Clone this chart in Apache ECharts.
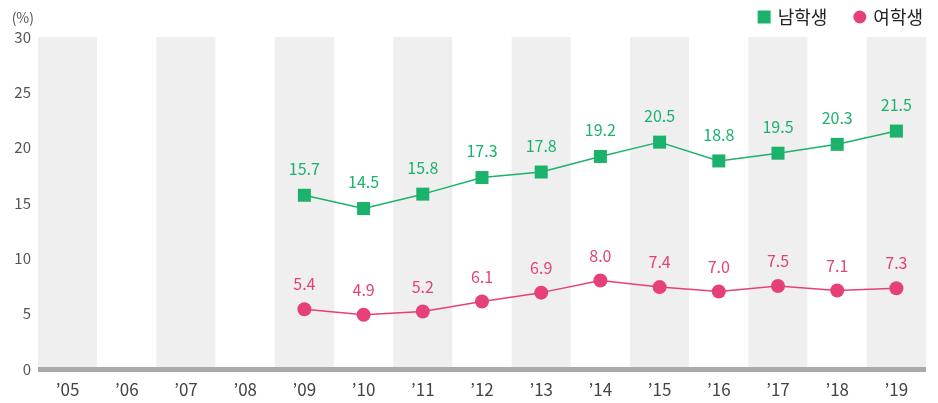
<!DOCTYPE html>
<html><head><meta charset="utf-8">
<script src="https://cdn.jsdelivr.net/npm/echarts@6/dist/echarts.min.js"></script>
<style>html,body{margin:0;padding:0;background:#fff}#c{width:938px;height:403px}</style>
</head><body><div id="c"></div>
<script>
const categories = ['’05','’06','’07','’08','’09','’10','’11','’12','’13','’14','’15','’16','’17','’18','’19'];
const male = [null,null,null,null,15.7,14.5,15.8,17.3,17.8,19.2,20.5,18.8,19.5,20.3,21.5];
const female = [null,null,null,null,5.4,4.9,5.2,6.1,6.9,8.0,7.4,7.0,7.5,7.1,7.3];
const yTicks = [0,5,10,15,20,25,30];
const FONT = '"Noto Sans CJK KR", "Noto Sans", sans-serif';
const green = '#1bb36b', pink = '#e6407b';
const chart = echarts.init(document.getElementById('c'));
chart.setOption({
  animation: false,
  textStyle: {fontFamily: FONT},
  legend: {
    right: 10, top: 3, itemGap: 26, itemWidth: 13, itemHeight: 13,
    textStyle: {fontSize: 18, color: '#222', fontFamily: FONT, padding: [0,0,0,2]},
    data: [{name: '남학생', icon: 'rect'}, {name: '여학생', icon: 'circle'}]
  },
  grid: {left: 38, right: 12, top: 37, bottom: 34, containLabel: false},
  xAxis: {
    type: 'category', data: categories, boundaryGap: true,
    axisLine: {lineStyle: {color: '#aaaaaa', width: 5, cap: 'butt'}},
    axisTick: {show: false},
    axisLabel: {fontSize: 17, color: '#444', margin: 12, fontFamily: FONT},
    splitArea: {show: true, areaStyle: {color: ['#efefef', '#ffffff']}}
  },
  yAxis: {
    type: 'value', min: 0, max: 30, interval: 5,
    name: '(%)', nameLocation: 'end', nameGap: 12,
    nameTextStyle: {fontSize: 14, color: '#555', align: 'right', padding: [0, 4, 0, 0]},
    axisLine: {show: false}, axisTick: {show: false}, splitLine: {show: false},
    axisLabel: {fontSize: 15, color: '#555', margin: 7,
      formatter: v => yTicks.includes(v) ? String(v) : ''}
  },
  series: [
    {name: '남학생', type: 'line', data: male, symbol: 'rect', symbolSize: 13,
     itemStyle: {color: green}, lineStyle: {color: green, width: 1.5},
     label: {show: true, position: 'top', distance: 12, fontSize: 16, color: green,
       formatter: p => p.value.toFixed(1)}},
    {name: '여학생', type: 'line', data: female, symbol: 'circle', symbolSize: 14,
     itemStyle: {color: pink}, lineStyle: {color: pink, width: 1.5},
     label: {show: true, position: 'top', distance: 10, fontSize: 16, color: pink,
       formatter: p => p.value.toFixed(1)}}
  ]
});
</script></body></html>
